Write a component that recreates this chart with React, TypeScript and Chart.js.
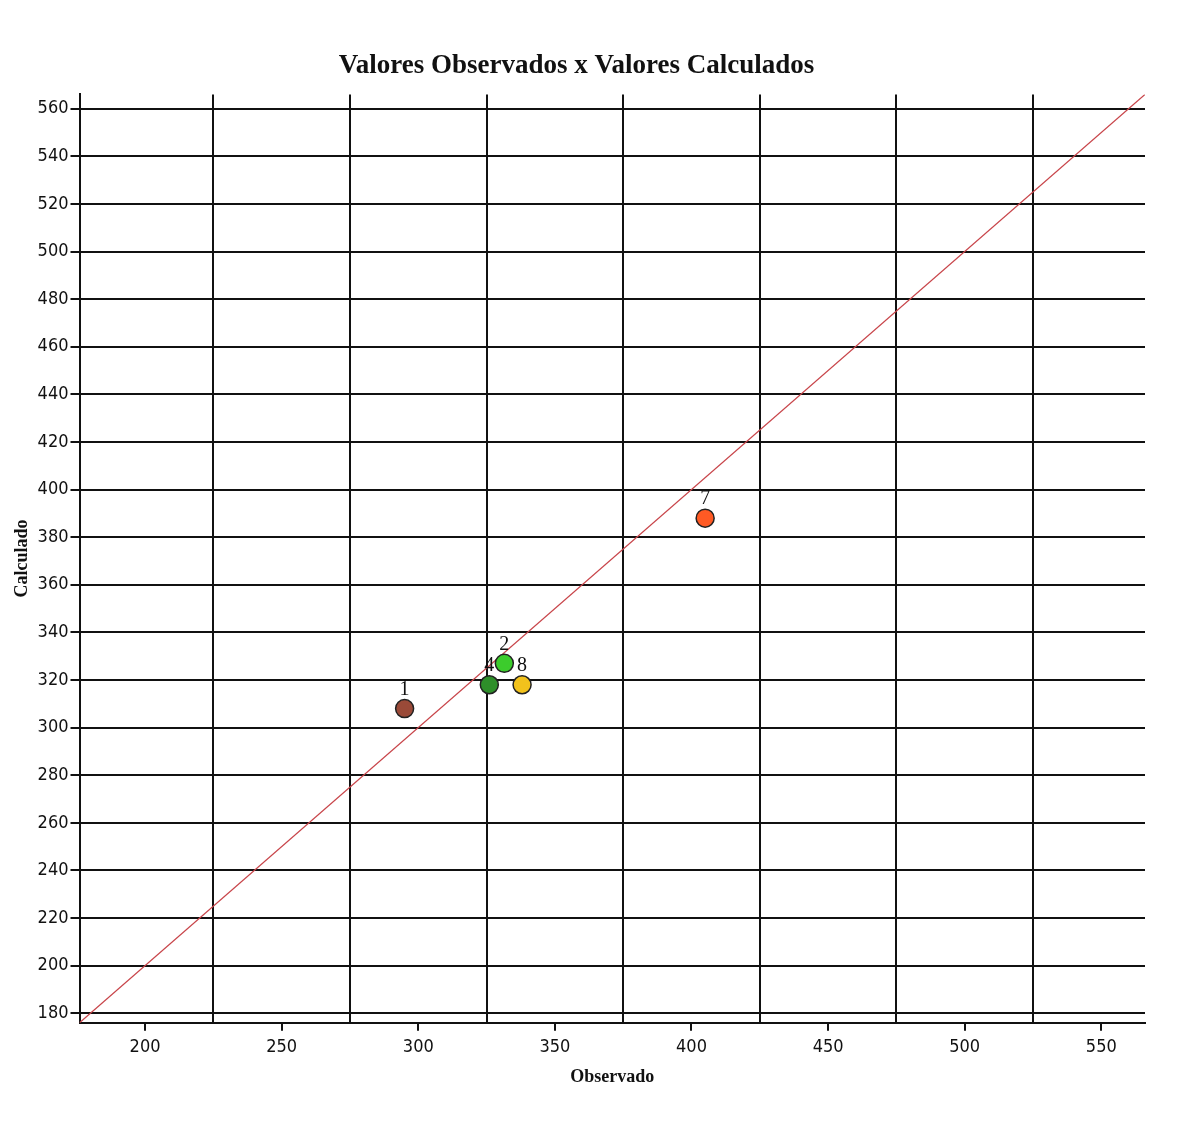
import React, { useEffect, useRef } from "react";
import { Chart, registerables } from "chart.js";

Chart.register(...registerables);

const pointLabels = ["1", "2", "4", "8", "7"];
const observed = [295, 331.5, 326, 338, 405];
const calculated = [308, 327, 318, 318, 388];
const pointColors = ["#9a4a38", "#3ccc2c", "#2e8f2a", "#f2c21c", "#ff5a24"];
const xTicks = [200, 225, 250, 275, 300, 325, 350, 375, 400, 425, 450, 475, 500, 525, 550];
const yTicks = [180, 200, 220, 240, 260, 280, 300, 320, 340, 360, 380, 400, 420, 440, 460, 480, 500, 520, 540, 560];
const axisMin = 176;
const axisMax = 566;

const labelPlugin = {
  id: "pointNumbers",
  afterDatasetsDraw(chart: any) {
    const { ctx, scales } = chart;
    ctx.save();
    ctx.font = "20px 'Liberation Serif', serif";
    ctx.fillStyle = "#111";
    ctx.textAlign = "center";
    ctx.textBaseline = "bottom";
    pointLabels.forEach((lab, i) => {
      const px = scales.x.getPixelForValue(observed[i]);
      const py = scales.y.getPixelForValue(calculated[i]);
      ctx.fillText(lab, px, py - 9);
    });
    ctx.restore();
  },
};

export default function App() {
  const ref = useRef<HTMLCanvasElement>(null);
  useEffect(() => {
    if (!ref.current) return;
    const chart = new Chart(ref.current, {
      type: "scatter",
      data: {
        datasets: [
          {
            type: "scatter",
            data: observed.map((x, i) => ({ x, y: calculated[i] })),
            backgroundColor: pointColors,
            borderColor: "#222",
            borderWidth: 1.5,
            pointRadius: 9,
            order: 1,
          },
          {
            type: "line",
            data: [
              { x: axisMin, y: axisMin },
              { x: axisMax, y: axisMax },
            ],
            borderColor: "#c8454a",
            borderWidth: 1.2,
            pointRadius: 0,
            order: 2,
          } as any,
        ],
      },
      options: {
        animation: false,
        responsive: false,
        maintainAspectRatio: false,
        layout: { padding: { left: 0, right: 48, top: 10, bottom: 30 } },
        plugins: {
          legend: { display: false },
          tooltip: { enabled: false },
          title: {
            display: true,
            text: "Valores Observados x Valores Calculados",
            color: "#111",
            font: { family: "'Liberation Serif', serif", size: 27, weight: "bold" },
            padding: { top: 32, bottom: 12 },
          },
        },
        scales: {
          x: {
            type: "linear",
            min: axisMin,
            max: axisMax,
            afterBuildTicks: (s: any) => {
              s.ticks = xTicks.map((v) => ({ value: v }));
            },
            ticks: {
              autoSkip: false,
              maxRotation: 0,
              color: "#111",
              font: { family: "'DejaVu Sans Condensed', 'Liberation Sans', sans-serif", size: 18 },
              callback: (v: any) => (Number(v) % 50 === 0 ? String(v) : ""),
              padding: 6,
            },
            grid: {
              color: (c: any) => (c.tick && c.tick.value % 50 === 25 ? "#111" : "rgba(0,0,0,0)"),
              tickColor: (c: any) => (c.tick && c.tick.value % 50 === 0 ? "#111" : "rgba(0,0,0,0)"),
              lineWidth: 2,
              tickLength: 8,
            },
            border: { color: "#111", width: 2 },
            title: {
              display: true,
              text: "Observado",
              color: "#111",
              font: { family: "'Liberation Serif', serif", size: 18, weight: "bold" },
              padding: { top: 2 },
            },
          },
          y: {
            type: "linear",
            min: axisMin,
            max: axisMax,
            afterBuildTicks: (s: any) => {
              s.ticks = yTicks.map((v) => ({ value: v }));
            },
            ticks: {
              autoSkip: false,
              color: "#111",
              font: { family: "'DejaVu Sans Condensed', 'Liberation Sans', sans-serif", size: 18 },
              padding: 2,
            },
            grid: {
              color: "#111",
              lineWidth: 2,
              tickLength: 9,
            },
            border: { color: "#111", width: 2 },
            title: {
              display: true,
              text: "Calculado",
              color: "#111",
              font: { family: "'Liberation Serif', serif", size: 18, weight: "bold" },
              padding: { bottom: 2 },
            },
          },
        },
      },
      plugins: [labelPlugin],
    });
    return () => chart.destroy();
  }, []);
  return (
    <div style={{ width: 1185, height: 1114, background: "#fff" }}>
      <canvas ref={ref} width={1185} height={1114} style={{ width: 1185, height: 1114 }} />
    </div>
  );
}
